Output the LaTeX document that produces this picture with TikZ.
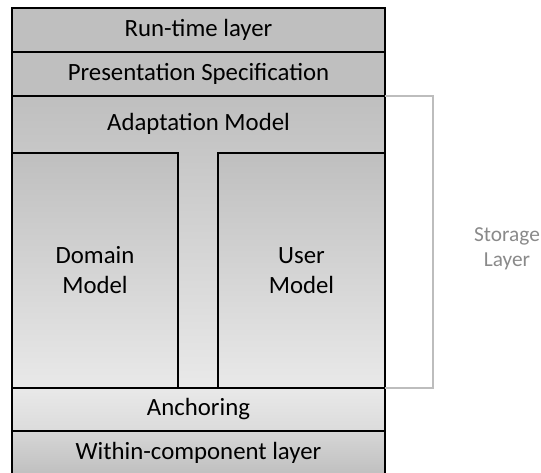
\documentclass[tikz,border=0pt]{standalone}
\usepackage{fontspec}
\setmainfont{Carlito}
\usetikzlibrary{positioning}
\definecolor{layergray}{HTML}{BFBFBF}
\definecolor{lightgray}{HTML}{E9E9E9}
\definecolor{bracketgray}{HTML}{BDBDBD}
\definecolor{storagegray}{HTML}{8A8A8A}
\tikzset{
  layer/.style={draw=black, line width=1pt, minimum width=279.75pt,
    minimum height=33pt, inner sep=0pt, outer sep=0pt,
    font=\fontsize{18.6}{22}\selectfont, fill=layergray},
  model/.style={draw=black, line width=1pt, minimum width=124.5pt,
    minimum height=176.25pt, inner sep=0pt, outer sep=0pt, align=center,
    font=\fontsize{18.6}{22.5}\selectfont,
    top color=layergray, bottom color=lightgray},
  caption/.style={font=\fontsize{18.6}{22}\selectfont, inner sep=0pt},
  bracket/.style={draw=bracketgray, line width=1.5pt},
}
\begin{document}
\begin{tikzpicture}[x=0.75pt, y=-0.75pt]
  \useasboundingbox (0,0) rectangle (541,473);
  % layers, top to bottom
  \node[layer, anchor=north west] (runtime) at (12,8) {Run-time layer};
  \node[layer, below=0pt of runtime] (presspec) {Presentation Specification};
  \node[layer, minimum height=219pt, below=0pt of presspec,
    top color=layergray, bottom color=lightgray] (adapt) {};
  \node[caption] (adaptlbl) at ([yshift=-21pt]adapt.north) {Adaptation Model};
  \node[model, minimum width=124.5pt, anchor=south west] (domain)
    at (adapt.south west) {Domain\\Model};
  \node[model, minimum width=125.25pt, anchor=south east] (user)
    at (adapt.south east) {User\\Model};
  \node[layer, minimum height=32.25pt, below=0pt of adapt,
    top color=lightgray, bottom color=black!14] (anchoring) {Anchoring};
  \node[layer, minimum height=33pt, below=0pt of anchoring,
    top color=black!16, bottom color=black!25] (within) {Within-component layer};
  % storage bracket
  \draw[bracket] (adapt.north east) -- ++(48,0) |- (adapt.south east);
  \node[font=\fontsize{16}{19}\selectfont, text=storagegray, align=center,
    inner sep=0pt] (storage) at (507,249) {Storage\\Layer};
\end{tikzpicture}
\end{document}
